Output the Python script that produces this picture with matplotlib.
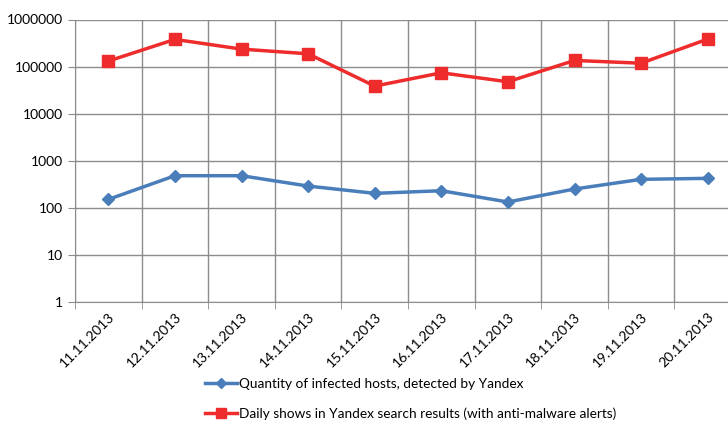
#!/usr/bin/env python
"""infected hosts vs daily alert shows, log scale"""
import matplotlib
matplotlib.use("Agg")
import matplotlib.pyplot as plt
from matplotlib.lines import Line2D

dates = ["11.11.2013", "12.11.2013", "13.11.2013", "14.11.2013", "15.11.2013",
         "16.11.2013", "17.11.2013", "18.11.2013", "19.11.2013", "20.11.2013"]
hosts = [151, 481, 481, 290, 203, 231, 133, 251, 403, 423]
shows = [131000, 378000, 235000, 187000, 38500, 73800, 47600, 135000, 118000, 384000]
yticks = [1, 10, 100, 1000, 10000, 100000, 1000000]

label_hosts = "Quantity of infected hosts, detected by Yandex"
label_shows = "Daily shows in Yandex search results (with anti-malware alerts)"

BLUE = "#4a7ebb"
RED = "#ee2c2c"
GRID = "#8c8c8c"

plt.rcParams["font.family"] = ["Lato", "DejaVu Sans"]

fig = plt.figure(figsize=(7.28, 4.22), dpi=100)
# plot area runs past the right edge of the picture, like the original crop
ax = fig.add_axes([75 / 728, 120 / 422, 666 / 728, 282.5 / 422])

x = list(range(len(dates)))
ax.plot(x, hosts, color=BLUE, lw=2.5, marker="D", ms=6.5, label=label_hosts, zorder=3)
ax.plot(x, shows, color=RED, lw=2.5, marker="s", ms=8.5, label=label_shows, zorder=3)

ax.set_yscale("log")
ax.set_ylim(1, 1000000)
ax.set_yticks(yticks)
ax.set_yticklabels([str(v) for v in yticks], fontsize=10)
ax.minorticks_off()
ax.tick_params(axis="y", length=5, color=GRID, pad=4)

ax.set_xlim(-0.5, 9.5)
ax.set_xticks(x)
ax.set_xticklabels(dates, rotation=45, ha="right", rotation_mode="anchor", fontsize=10)
ax.tick_params(axis="x", length=0, pad=6)
ax.set_xticks([i - 0.5 for i in range(len(dates) + 1)], minor=True)
ax.tick_params(axis="x", which="minor", length=5, color=GRID)

ax.grid(True, axis="y", which="major", color=GRID, lw=1)
ax.grid(True, axis="x", which="minor", color=GRID, lw=1)
ax.set_axisbelow(True)
for side in ["top", "right"]:
    ax.spines[side].set_visible(False)
for side in ["left", "bottom"]:
    ax.spines[side].set_color(GRID)

handles = [Line2D([], [], color=BLUE, lw=2.5, marker="D", ms=5),
           Line2D([], [], color=RED, lw=2.5, marker="s", ms=7)]
fig.legend(handles, [label_hosts, label_shows], loc="center left",
           bbox_to_anchor=(193 / 728, 1 - 399 / 422), frameon=False,
           fontsize=9.8, handlelength=2.3, handletextpad=0.2, labelspacing=1.25)

fig.savefig("out.png", dpi=100)
